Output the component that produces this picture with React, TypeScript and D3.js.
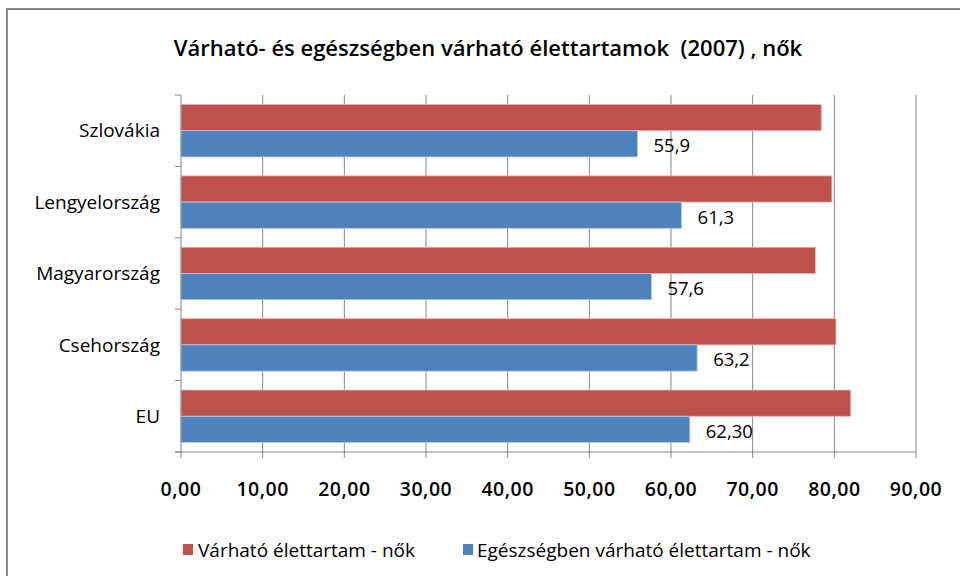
import React from "react";
import * as d3 from "d3";

// chart values
const categories = ["Szlovákia", "Lengyelország", "Magyarország", "Csehország", "EU"];
const lifeExp = [78.4, 79.7, 77.7, 80.2, 82.0];
const healthyLifeExp = [55.9, 61.3, 57.6, 63.2, 62.3];
const healthyLabels = ["55,9", "61,3", "57,6", "63,2", "62,30"];
const xTicks = [0, 10, 20, 30, 40, 50, 60, 70, 80, 90];
const seriesNames = ["Várható élettartam - nők", "Egészségben várható élettartam - nők"];
const colors = ["#C0504D", "#4F81BD"];

const W = 960, H = 576;
const margin = { top: 95, left: 181, right: 44, bottom: 124 };
const font = "'Open Sans', 'Noto Sans', sans-serif";

function App() {
    const x = d3.scaleLinear().domain([0, 90]).range([margin.left, W - margin.right]);
    const y = d3.scaleBand().domain(categories).range([margin.top, H - margin.bottom]);
    const inner = d3.scaleBand().domain(["0", "1"]).range([0, y.bandwidth()]).paddingOuter(0.36).paddingInner(0);
    const bottom = H - margin.bottom;
    const bounds = y.domain().map(c => y(c)!).concat([bottom]);

    return (
        <svg width={W} height={H} style={{ position: "absolute", left: 0, top: 0, background: "#fff" }}
            fontFamily={font}>
            <rect x={7} y={9} width={W} height={H} fill="#fff" stroke="#868686" strokeWidth={2} />
            <text x={488} y={48} dy="0.35em" textAnchor="middle" fontSize={22} fontWeight={600} fill="#000"
                style={{ whiteSpace: "pre" }}>
                Várható- és egészségben várható élettartamok  (2007) , nők
            </text>

            {/* grid */}
            {xTicks.slice(1).map(t => (
                <line key={t} x1={x(t)} x2={x(t)} y1={margin.top} y2={bottom} stroke="#868686" />
            ))}

            {/* bars */}
            {categories.map((c, i) => (
                <g key={c} transform={`translate(0,${y(c)})`}>
                    <rect x={x(0)} y={inner("0")} width={x(lifeExp[i]) - x(0)} height={inner.bandwidth()}
                        fill={colors[0]} stroke="#e8b9b8" strokeWidth={0.8} />
                    <rect x={x(0)} y={inner("1")} width={x(healthyLifeExp[i]) - x(0)} height={inner.bandwidth()}
                        fill={colors[1]} stroke="#b9cde5" strokeWidth={0.8} />
                    <text x={x(healthyLifeExp[i]) + 16} y={inner("1")! + inner.bandwidth() / 2 + 2}
                        dy="0.35em" fontSize={18.5} fill="#000">{healthyLabels[i]}</text>
                    <text x={160} y={y.bandwidth() / 2} dy="0.35em" textAnchor="end" fontSize={19} fill="#000">{c}</text>
                </g>
            ))}

            {/* axes */}
            <line x1={x(0)} x2={x(0)} y1={margin.top} y2={bottom} stroke="#868686" />
            {bounds.map((b, i) => (
                <line key={i} x1={x(0) - 6} x2={x(0)} y1={b} y2={b} stroke="#868686" />
            ))}
            <line x1={x(0) - 6} x2={x(90)} y1={bottom} y2={bottom} stroke="#868686" />
            {xTicks.map(t => (
                <g key={t}>
                    <line x1={x(t)} x2={x(t)} y1={bottom} y2={bottom + 6} stroke="#868686" />
                    <text x={x(t)} y={489} dy="0.35em" textAnchor="middle" fontSize={19.5} fontWeight={600}
                        letterSpacing={0.5} fill="#000">
                        {d3.format(".2f")(t).replace(".", ",")}
                    </text>
                </g>
            ))}

            {/* legend */}
            <rect x={183} y={544} width={10} height={11} fill={colors[0]} />
            <text x={198} y={550} dy="0.35em" fontSize={19} fill="#000">{seriesNames[0]}</text>
            <rect x={463} y={544} width={10} height={11} fill={colors[1]} />
            <text x={477} y={550} dy="0.35em" fontSize={19} fill="#000">{seriesNames[1]}</text>
        </svg>
    );
}

export default App;
